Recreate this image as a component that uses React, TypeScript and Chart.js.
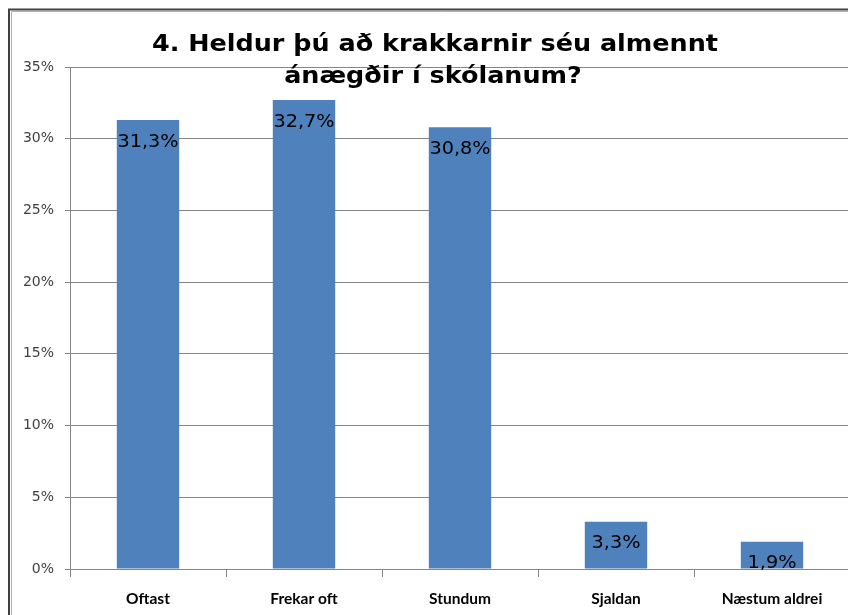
import React, { useEffect, useRef } from "react";
import { Chart, registerables } from "chart.js";

Chart.register(...registerables);

const titleLines = ["4. Heldur þú að krakkarnir séu almennt", "ánægðir í skólanum?"];
const categories = ["Oftast", "Frekar oft", "Stundum", "Sjaldan", "Næstum aldrei"];
const values = [31.3, 32.7, 30.8, 3.3, 1.9];
const yMax = 35;
const yStep = 5;

const fmtLabel = (v: number) => v.toFixed(1).replace(".", ",") + "%";

const drawStretched = (ctx: any, text: string, cx: number, y: number, sx: number) => {
  ctx.save();
  ctx.translate(cx, y);
  ctx.scale(sx, 1);
  ctx.fillText(text, 0, 0);
  ctx.restore();
};

const framePlugin = {
  id: "frame",
  beforeDraw(chart: any) {
    const ctx = chart.ctx;
    ctx.save();
    ctx.fillStyle = "#ffffff";
    ctx.fillRect(0, 0, chart.width, chart.height);
    ctx.strokeStyle = "#404040";
    ctx.lineWidth = 2;
    ctx.beginPath();
    ctx.moveTo(9, chart.height + 5);
    ctx.lineTo(9, 9.5);
    ctx.lineTo(chart.width + 5, 9.5);
    ctx.stroke();
    ctx.strokeStyle = "#b0b0b0";
    ctx.lineWidth = 1;
    ctx.beginPath();
    ctx.moveTo(11.5, chart.height + 5);
    ctx.lineTo(11.5, 11.5);
    ctx.lineTo(chart.width + 5, 11.5);
    ctx.stroke();
    ctx.restore();
  },
  afterDraw(chart: any) {
    const ctx = chart.ctx;
    ctx.save();
    // data labels
    const meta = chart.getDatasetMeta(0);
    ctx.font = "18px 'DejaVu Sans'";
    ctx.fillStyle = "#000000";
    ctx.textAlign = "center";
    ctx.textBaseline = "middle";
    meta.data.forEach((bar: any, i: number) => {
      drawStretched(ctx, fmtLabel(values[i]), bar.x, bar.y + 22, 1.07);
    });
    // title
    ctx.font = "bold 23px 'DejaVu Sans'";
    ctx.fillStyle = "#000000";
    ctx.textBaseline = "alphabetic";
    const w0 = ctx.measureText(titleLines[0]).width;
    const sx = 566 / w0;
    drawStretched(ctx, titleLines[0], 435, 51, sx);
    drawStretched(ctx, titleLines[1], 433, 83, sx);
    ctx.restore();
  },
};

export default function App() {
  const ref = useRef<HTMLCanvasElement>(null);
  useEffect(() => {
    if (!ref.current) return;
    const chart = new Chart(ref.current, {
      type: "bar",
      data: {
        labels: categories,
        datasets: [
          {
            data: values,
            backgroundColor: "#4F81BD",
            borderWidth: 0,
            barPercentage: 0.4,
            categoryPercentage: 1,
          },
        ],
      },
      options: {
        responsive: false,
        animation: false,
        layout: { padding: { left: 0, right: 20, top: 67, bottom: 0 } },
        plugins: { legend: { display: false }, tooltip: { enabled: false }, title: { display: false } },
        scales: {
          x: {
            offset: true,
            grid: { offset: true, drawOnChartArea: false, color: "#868686", tickLength: 8 },
            border: { color: "#868686" },
            ticks: {
              color: "#000000",
              font: { family: "Lato", weight: "bold", size: 15.5 },
              padding: 13,
              maxRotation: 0,
            },
            afterFit(scale: any) {
              scale.height = 46;
            },
          },
          y: {
            min: 0,
            max: yMax,
            grid: { color: "#868686", tickLength: 5 },
            border: { color: "#868686" },
            ticks: {
              stepSize: yStep,
              color: "#404040",
              font: { family: "DejaVu Sans", size: 14 },
              padding: 11,
              callback: (v: any) => v + "%",
            },
            afterFit(scale: any) {
              scale.width = 70;
            },
          },
        },
      },
      plugins: [framePlugin],
    });
    return () => chart.destroy();
  }, []);
  return (
    <div style={{ position: "fixed", left: 0, top: 0, width: 848, height: 615, overflow: "hidden", background: "#fff" }}>
      <canvas ref={ref} width={870} height={615} style={{ display: "block", width: 870, height: 615 }} />
    </div>
  );
}
